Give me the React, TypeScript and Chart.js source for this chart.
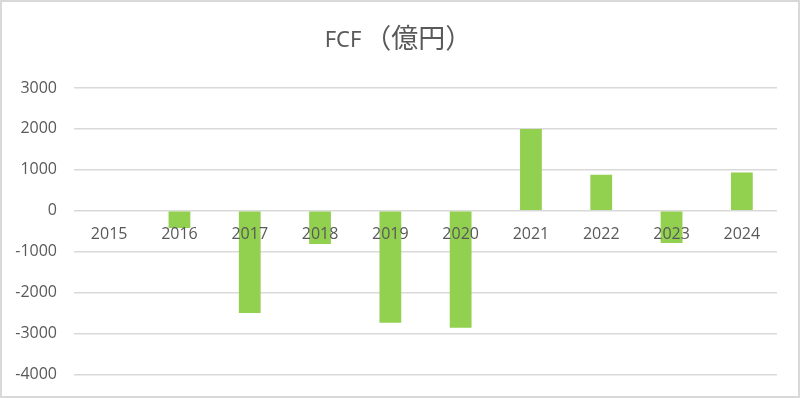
import React, { useEffect, useRef } from "react";
import { Chart, registerables } from "chart.js";

Chart.register(...registerables);

const years = ["2015", "2016", "2017", "2018", "2019", "2020", "2021", "2022", "2023", "2024"];
const fcf = [0, -420, -2500, -810, -2740, -2860, 2000, 880, -790, 935];
const yMin = -4000;
const yMax = 3000;
const yStep = 1000;
const titleLatin = "FCF";
const titleCJK = "（億円）";

const titlePlugin = {
  id: "mixedTitle",
  afterDraw(chart: any) {
    const ctx = chart.ctx as CanvasRenderingContext2D;
    ctx.save();
    ctx.fillStyle = "#595959";
    ctx.textBaseline = "alphabetic";
    ctx.textAlign = "left";
    const latinFont = "22px 'Noto Sans', 'Open Sans', sans-serif";
    const cjkFont = "27px 'Noto Sans CJK JP', sans-serif";
    ctx.font = latinFont;
    const w1 = ctx.measureText(titleLatin).width;
    ctx.font = cjkFont;
    const w2 = ctx.measureText(titleCJK).width;
    const gap = 3;
    const total = w1 + gap + w2;
    const x0 = chart.width / 2 - 1.5 - total / 2;
    ctx.font = latinFont;
    ctx.fillText(titleLatin, x0, 45);
    ctx.font = cjkFont;
    ctx.fillText(titleCJK, x0 + w1 + gap, 45.5);
    ctx.restore();
  },
};

export default function App() {
  const ref = useRef<HTMLCanvasElement | null>(null);
  useEffect(() => {
    document.body.style.margin = "0";
    const ctx = ref.current!;
    const chart = new Chart(ctx, {
      type: "bar",
      data: {
        labels: years,
        datasets: [
          {
            data: fcf,
            backgroundColor: "#92d050",
            borderWidth: 0,
            categoryPercentage: 1,
            barPercentage: 0.31,
          },
        ],
      },
      plugins: [titlePlugin],
      options: {
        animation: false,
        responsive: false,
        maintainAspectRatio: false,
        layout: { padding: { left: 13, right: 21, top: 86, bottom: 11 } },
        plugins: {
          legend: { display: false },
          tooltip: { enabled: false },
          title: { display: false },
        },
        scales: {
          x: {
            position: { y: 0 },
            afterFit: (scale: any) => {
              scale.height = 0;
            },
            grid: { display: false },
            border: { display: false },
            ticks: {
              z: 1,
              color: "#595959",
              font: { family: "'Open Sans', 'Noto Sans', sans-serif", size: 16 },
              padding: 6,
              maxRotation: 0,
            },
          },
          y: {
            min: yMin,
            max: yMax,
            afterFit: (scale: any) => {
              scale.width = 59;
            },
            grid: { color: "#d9d9d9", lineWidth: 1.5, drawTicks: false },
            border: { display: false },
            ticks: {
              stepSize: yStep,
              color: "#595959",
              font: { family: "'Open Sans', 'Noto Sans', sans-serif", size: 16 },
              padding: 17,
              callback: (v: any) => String(v),
            },
          },
        },
      },
    });
    return () => chart.destroy();
  }, []);
  return (
    <div
      style={{
        position: "absolute",
        left: 0,
        top: 0,
        width: 800,
        height: 398,
        boxSizing: "border-box",
        border: "2px solid #d9d9d9",
        background: "#fff",
        overflow: "hidden",
      }}
    >
      <canvas ref={ref} width={796} height={399} style={{ display: "block" }} />
    </div>
  );
}
